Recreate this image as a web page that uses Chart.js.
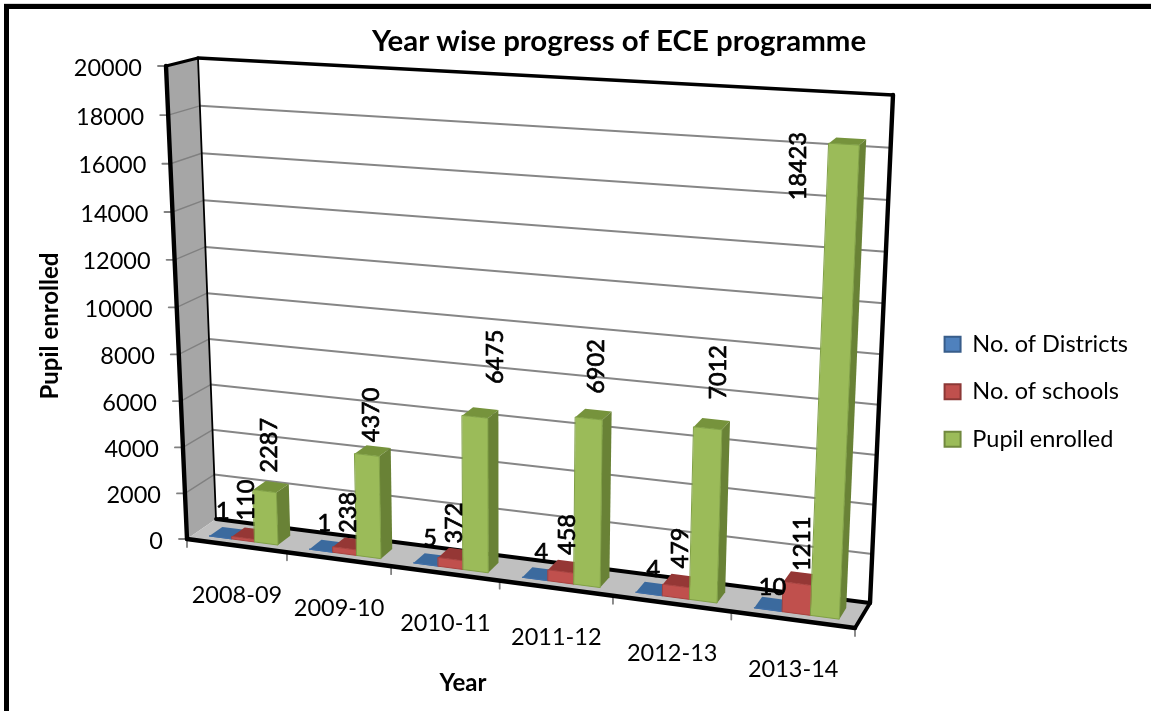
<!DOCTYPE html>
<html><head><meta charset="utf-8">
<style>html,body{margin:0;padding:0;background:#fff}#w{width:1151px;height:711px}canvas{display:block}</style>
<script src="https://cdn.jsdelivr.net/npm/chart.js@4/dist/chart.umd.min.js"></script>
</head><body><div id="w"><canvas id="c" width="1151" height="711"></canvas></div>
<script>
const years = ['2008-09','2009-10','2010-11','2011-12','2012-13','2013-14'];
const districts = [1,1,5,4,4,10];
const schools = [110,238,372,458,479,1211];
const pupils = [2287,4370,6475,6902,7012,18423];
const yTicks = [0,2000,4000,6000,8000,10000,12000,14000,16000,18000,20000];

// hand-placed data-label displacement from the top of each bar, as in the source
const nudgeDistricts = [[2,-26],[3,-27],[4,-26],[6,-27],[4,-25],[4,-22]];
const nudgeSchools = [[3,-38],[4,-36],[4,-36],[6,-37],[4,-38],[5,-40]];
const nudgePupils = [[5,-46],[4,-40],[20,-60],[8,-52],[11,-56],[-46,22]];

// viewing frustum of the 3-D box: front plane and back plane corners
const view = {
  fb0:[187,539], fb1:[855,628], ft0:[166,66], ft1:[878,107],
  bb0:[216,519], bb1:[870,603], bt0:[198,58], bt1:[893,95],
  warpU:-0.12, warpV:-0.04, barW0:0.25, barW1:0.70
};
const lerp=(a,b,t)=>[a[0]+(b[0]-a[0])*t,a[1]+(b[1]-a[1])*t];
const warp=(t,k)=>t*(1+k)/(1+k*t);
function P(u,v,w){
  const uu=warp(u,view.warpU), vv=warp(v,view.warpV);
  const fb=lerp(view.fb0,view.fb1,uu), ft=lerp(view.ft0,view.ft1,uu);
  const bb=lerp(view.bb0,view.bb1,uu), bt=lerp(view.bt0,view.bt1,uu);
  return lerp(lerp(fb,ft,vv),lerp(bb,bt,vv),w);
}
function poly(ctx,pts,fill,stroke,lw){
  ctx.beginPath();pts.forEach((p,i)=>i?ctx.lineTo(p[0],p[1]):ctx.moveTo(p[0],p[1]));ctx.closePath();
  if(fill){ctx.fillStyle=fill;ctx.fill();}
  if(stroke){ctx.strokeStyle=stroke;ctx.lineWidth=lw||1;ctx.stroke();}
}
function seg(ctx,a,b,col,lw){ctx.beginPath();ctx.moveTo(a[0],a[1]);ctx.lineTo(b[0],b[1]);ctx.strokeStyle=col;ctx.lineWidth=lw;ctx.lineCap='round';ctx.stroke();}

const shades=[
  {front:'#4f81bd',side:'#2f5a8c',top:'#3b6a9e',edge:'#3f6ea6'},
  {front:'#c0504d',side:'#8a3532',top:'#953735',edge:'#a8423f'},
  {front:'#9bbb59',side:'#698236',top:'#76933c',edge:'#80a045'}
];
const nudges=[nudgeDistricts,nudgeSchools,nudgePupils];
const font='Lato, sans-serif';

const box3d={
  id:'box3d',
  beforeDraw(chart){
    const c=chart.ctx;
    c.save();c.fillStyle='#fff';c.fillRect(0,0,chart.width,chart.height);
    c.fillStyle='#d8d8d8';c.fillRect(4,3,chart.width-4,1);
    c.fillStyle='#000';c.fillRect(4,4,chart.width-4,5);c.fillRect(4,4,5,chart.height-4);
    c.restore();
  },
  beforeDatasetsDraw(chart){
    const c=chart.ctx, xs=chart.scales.x, ys=chart.scales.y, a=chart.chartArea;
    const U=px=>(px-a.left)/(a.right-a.left), V=val=>(a.bottom-ys.getPixelForValue(val))/(a.bottom-a.top);
    c.save();
    poly(c,[P(0,1,1),P(0,1,0),P(0,0,0),P(0,0,1)],'#a6a6a6');
    poly(c,[P(0,0,0),P(1,0,0),P(1,0,1),P(0,0,1)],'#c0c0c0');
    yTicks.forEach(val=>{
      const v=V(val);
      if(v>0&&v<1){
        seg(c,P(0,v,1),P(1,v,1),'#868686',2);
        seg(c,P(0,v,0),P(0,v,1),'#808080',1.4);
      }
      const f=P(0,v,0);
      seg(c,[f[0]-8,f[1]],f,'#808080',1.8);
      c.fillStyle='#000';c.font='23.5px '+font;c.textAlign='right';c.textBaseline='middle';
      c.fillText(String(val),f[0]-24,f[1]+2);
    });
    const K='#000';
    seg(c,P(0,1,1),P(0,0,1),K,1.8);
    seg(c,P(0,1,0),P(0,1,1),K,3);
    seg(c,P(0,1,1),P(1,1,1),K,3.6);
    seg(c,P(1,1,1),P(1,0,1),K,4.4);
    seg(c,P(0,0,1),P(1,0,1),K,3.8);
    seg(c,P(0,1,0),P(0,0,0),K,4.4);
    const n=years.length, step=(a.right-a.left)/n;
    for(let k=0;k<=n;k++){
      const f=P(U(a.left+k*step),0,0);
      seg(c,f,[f[0],f[1]+8],'#808080',1.8);
    }
    years.forEach((label,i)=>{
      const u=U(xs.getPixelForValue(i));
      const f0=P(u-0.5/n,0,0),f1=P(u+0.5/n,0,0);
      c.fillStyle='#000';c.font='23.5px '+font;c.textAlign='center';c.textBaseline='middle';
      c.fillText(label,(f0[0]+f1[0])/2,(f0[1]+f1[1])/2+49.5);
    });
    seg(c,P(0,0,0),P(1,0,0),K,4.4);
    seg(c,P(1,0,0),P(1,0,1),K,3.8);
    const labels=[];
    for(let j=0;j<n;j++){
      chart.data.datasets.forEach((ds,i)=>{
        const el=chart.getDatasetMeta(i).data[j], s=shades[i];
        const u0=U(el.x-el.width/2),u1=U(el.x+el.width/2),v=V(ds.data[j]);
        const w0=view.barW0,w1=view.barW1;
        poly(c,[P(u0,v,w0),P(u1,v,w0),P(u1,v,w1),P(u0,v,w1)],s.top);
        poly(c,[P(u1,0,w0),P(u1,0,w1),P(u1,v,w1),P(u1,v,w0)],s.side);
        poly(c,[P(u0,0,w0),P(u1,0,w0),P(u1,v,w0),P(u0,v,w0)],s.front,s.edge,1);
        const tp=P((u0+u1)/2,v,w0), nd=nudges[i][j];
        labels.push({x:tp[0]+nd[0],y:tp[1]+nd[1],text:String(ds.data[j]),rot:i>0});
      });
    }
    c.fillStyle='#000';c.font='23.5px '+font;c.textAlign='center';c.textBaseline='middle';
    labels.forEach(l=>{
      c.save();c.translate(l.x,l.y);if(l.rot)c.rotate(-Math.PI/2);
      c.lineWidth=0.7;c.strokeStyle='#000';c.strokeText(l.text,0,0);c.fillText(l.text,0,0);c.restore();
    });
    c.font='bold 24px '+font;
    c.fillText(xs.options.title.text,463,683);
    c.save();c.translate(50,326);c.rotate(-Math.PI/2);c.fillText(ys.options.title.text,0,0);c.restore();
    c.restore();
    return false;
  }
};

new Chart(document.getElementById('c'),{
  type:'bar',
  data:{labels:years,datasets:[
    {label:'No. of Districts',data:districts,backgroundColor:'#4f81bd',borderColor:'#385d8a',borderWidth:2},
    {label:'No. of schools',data:schools,backgroundColor:'#c0504d',borderColor:'#8c3836',borderWidth:2},
    {label:'Pupil enrolled',data:pupils,backgroundColor:'#9bbb59',borderColor:'#71893f',borderWidth:2}
  ]},
  options:{
    responsive:false,animation:false,
    layout:{padding:{left:100,right:13,top:0,bottom:236}},
    font:{family:font},
    datasets:{bar:{categoryPercentage:0.69,barPercentage:1}},
    scales:{
      x:{display:false,title:{text:'Year'}},
      y:{display:false,min:0,max:20000,title:{text:'Pupil enrolled'},ticks:{stepSize:2000}}
    },
    plugins:{
      title:{display:true,text:'Year wise progress of ECE programme',color:'#000',
        font:{family:font,size:29.4,weight:'bold'},padding:{top:24,bottom:12}},
      legend:{position:'right',align:'end',labels:{color:'#000',font:{family:font,size:23.5},boxWidth:16,boxHeight:15,padding:24}},
      tooltip:{enabled:false}
    }
  },
  plugins:[box3d]
});
</script></body></html>
